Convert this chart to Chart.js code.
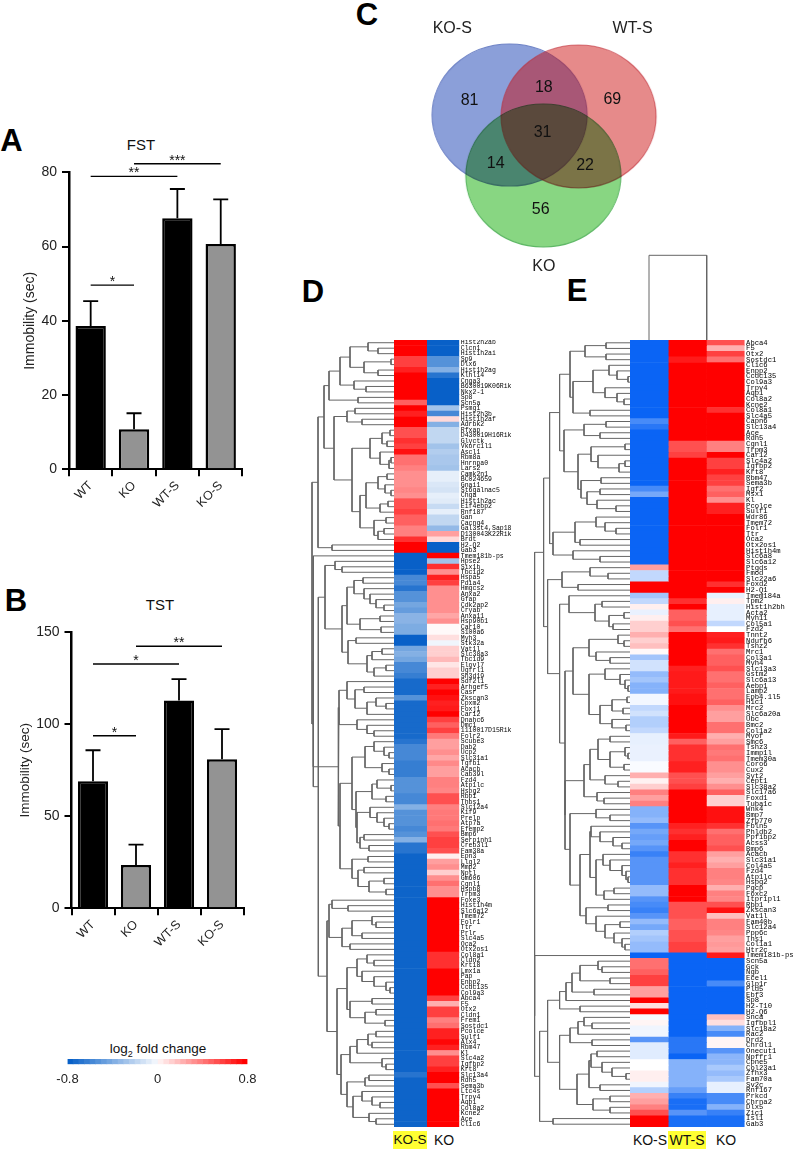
<!DOCTYPE html>
<html>
<head>
<meta charset="utf-8">
<title>Immobility, overlap and expression heatmaps</title>
<script src="https://cdn.jsdelivr.net/npm/chart.js@4"></script>
<style>
  html, body { margin: 0; padding: 0; background: #fff; width: 795px; height: 1150px; overflow: hidden; }
  body { position: relative; font-family: "Liberation Sans", Arial, sans-serif; color: #111; }
  canvas { position: absolute; }
  .txt { position: absolute; white-space: nowrap; transform: translate(-50%, -50%); line-height: 1; }
  .panel { font-size: 31px; font-weight: bold; color: #000; }
  .plot-title { font-size: 15px; }
  .col { font-size: 14px; }
  .hl { background: #ffff33; padding: 2px 0; text-align: center; height: 14px; }
  sub { font-size: 9px; line-height: 0; }
</style>
</head>
<body>
<div class="txt panel" style="left:11.5px;top:140px">A</div>
<div class="txt panel" style="left:16px;top:600px">B</div>
<div class="txt panel" style="left:367px;top:14px">C</div>
<div class="txt panel" style="left:313px;top:291px">D</div>
<div class="txt panel" style="left:577px;top:290px">E</div>
<div class="txt plot-title" style="left:141px;top:144px">FST</div>
<div class="txt plot-title" style="left:160px;top:604px">TST</div>
<div class="txt" style="left:158px;top:1049px;font-size:13.5px">log<sub>2</sub> fold change</div>
<div class="txt col hl" style="left:410px;top:1140px;width:34px;font-size:13.5px">KO-S</div>
<div class="txt col" style="left:444px;top:1140px">KO</div>
<div class="txt col" style="left:650px;top:1140px">KO-S</div>
<div class="txt col hl" style="left:687px;top:1140px;width:38px">WT-S</div>
<div class="txt col" style="left:726px;top:1140px">KO</div>
<script>
const groups = ["WT", "KO", "WT-S", "KO-S"];
const fstMeans = [38.6, 10.8, 67.6, 60.7];
const fstErrTop = [45.3, 15.1, 75.5, 72.7];
const fstBrackets = [[0, 1, 49.6, "*"], [0, 2, 78.9, "**"], [1, 3, 82.3, "***"]];
const tstMeans = [69, 23.5, 113, 81];
const tstErrTop = [85.9, 34.6, 124.5, 97.4];
const tstBrackets = [[0, 1, 93.8, "*"], [0, 2, 132.8, "*"], [1, 3, 142.4, "**"]];

const vennNames = ["KO-S", "WT-S", "KO"];
const vennNameX = [49, 236, 144];
const vennNameY = [24, 24, 271];
const vennCentreX = [108.5, 180, 143.5];
const vennCentreY = [114, 115.5, 176.7];
const vennCounts = ["81", "18", "69", "31", "14", "22", "56"];
const vennCountX = [67, 144, 215, 142.7, 94, 186.7, 140.7];
const vennCountY = [99, 85.7, 97.7, 132.3, 164, 166, 211.7];

const legendSteps = [0.05, 0.1, 0.15, 0.2, 0.25, 0.3, 0.35, 0.4, 0.45, 0.5, 0.55, 0.6, 0.65, 0.7, 0.75, 0.8];

const genesD = ["Hist2h2ab","Clcn1","Hist1h2ai","Sp9","Dlx6","Hist1h2ag","Klhl14","Cnga3","B630019K06Rik","Nkx2-1",
  "Sp8","Scn5a","Psmg1","Hist2h3b","Hist1h2af","Adrbk2","Rfxap","D430019H16Rik","Glyctk","Vkorc1l1",
  "Ascl1","Rbm8a","Hnrnpa0","Lars2","Camk2n1","BC024659","Gnai1","St6galnac5","Chga","Hist1h2ac",
  "Eif4ebp2","Rnf187","Gan","Cacng4","Gal3st4,Sap18","D130043K22Rik","Brdt","H2-Q2","Gab3","Tmem181b-ps",
  "Hpse2","Six1b","Tbc1d2","Hspa5","Pdia4","Hmgcs2","Anxa2","Gfap","Cdk2ap2","Cryab",
  "Anxa11","Hsp90b1","Car10","S100a6","Myh3","Stk32a","Vat1l","Slc38a3","Tbc1d9","Elovl7",
  "Ugfrl1","Sh3d19","Sdf2l1","Arhgef5","Casr","Zkscan3","Cpxm2","Foxj1","Car12","Dnahc6",
  "Dmc1","1110017D15Rik","Folr2","Scube3","Dab2","Ucp2","Slc31a1","Tgfbi","Acacb","Cab39l",
  "Fzd4","Atp1lc","Hspg2","Rbp1","Thbs1","Slc12a4","Kif9","Prelp","Atp7a","Efemp2",
  "Bmp6","Serpinh1","Creb3l1","Fam38a","Epn3","Llgl2","Mmp2","Nptl","Gm606","Cgnl1",
  "Hspb8","Trpm3","Foxe3","Hist1h4m","Slc6a12","Tmem72","Folr1","Ttr","Prlr","Slc4a5",
  "Oca2","Otx2os1","Col8a1","Cldn2","Krt18","Lmx1a","Pap","Enpp2","Ccdc135","Col9a3",
  "Abca4","F5","Otx2","Cldn1","Frem1","Sostdc1","Pcolce","Sulf1","Alx4","Rbm47",
  "Kl","Slc4a2","Igfbp2","Krt8","Slc13a4","Rdh5","Sema3b","Ltc4s","Trpv4","Aqp1",
  "Col8a2","Kcne2","Ace","Clic6"];
const koSD = [.8,.8,.8,.6,.6,.7,.8,.8,.8,.8,
  .8,.5,.8,.7,.8,.8,.55,.55,.65,.6,
  .75,.45,.45,.4,.35,.35,.35,.38,.35,.55,
  .55,.6,.5,.5,.4,.4,.65,.8,.8,-.8,
  -.8,-.8,-.8,-.6,-.6,-.7,-.55,-.55,-.45,-.5,
  -.38,-.38,-.42,-.42,-.8,-.8,-.45,-.4,-.45,-.6,
  -.6,-.65,-.75,-.75,-.75,-.55,-.75,-.75,-.75,-.75,
  -.75,-.75,-.75,-.7,-.6,-.6,-.6,-.65,-.65,-.65,
  -.55,-.55,-.55,-.6,-.6,-.4,-.55,-.55,-.55,-.6,
  -.55,-.4,-.7,-.7,-.78,-.78,-.78,-.78,-.78,-.78,
  -.78,-.78,-.78,-.78,-.78,-.78,-.78,-.78,-.78,-.78,
  -.78,-.78,-.78,-.78,-.78,-.78,-.78,-.78,-.78,-.78,
  -.78,-.78,-.78,-.78,-.78,-.78,-.78,-.78,-.78,-.78,
  -.78,-.78,-.78,-.78,-.7,-.78,-.78,-.78,-.78,-.78,
  -.78,-.78,-.78,-.78];
const koD = [-.8,-.8,-.8,-.55,-.55,-.4,-.7,-.8,-.8,-.8,
  -.8,-.8,-.3,-.6,.12,-.4,-.2,-.2,-.2,-.3,
  -.25,-.28,-.28,-.3,-.08,-.08,-.12,-.14,-.08,-.1,
  -.18,-.08,-.2,-.2,-.35,.3,.12,-.8,-.8,.8,
  -.3,.65,.35,.7,.6,.35,.35,.35,.35,.35,
  .28,.35,.02,.02,.1,-.05,.15,.15,.22,.08,
  .15,.15,.8,.7,.8,.75,.7,.72,.8,.6,
  .5,.6,.42,.3,.3,.35,.28,.37,.3,.3,
  .4,.4,.38,.55,.55,.4,.42,.42,.45,.42,
  .55,.6,.6,.55,.05,.3,.35,.15,.35,.45,
  .35,.35,.8,.8,.8,.8,.8,.8,.8,.8,
  .8,.8,.65,.65,.65,.8,.8,.8,.8,.8,
  .6,.25,.6,.6,.4,.45,.7,.7,.78,.7,
  .35,.6,.6,.7,.8,.8,.55,.8,.8,.8,
  .8,.8,.8,.8];

const genesE = ["Abca4","F5","Otx2","Sostdc1","Clic6","Enpp2","Ccdc135","Col9a3","Trpv4","Aqp1",
  "Col8a2","Kcne2","Col8a1","Slc4a5","Capn6","Slc13a4","Ace","Rdh5","Cgnl1","Trpm3",
  "Car12","Slc4a2","Igfbp2","Krt8","Rbm47","Sema3b","Igf2","Msx1","Kl","Pcolce",
  "Sulf1","Wdr86","Tmem72","Folr1","Ttr","Oca2","Otx2os1","Hist1h4m","Slc6a8","Slc6a12",
  "Ptgds","Fmod","Slc22a6","Foxd2","H2-Q1","Tmem184a","Tpm2","Hist1h2bh","Acta2","Myh11",
  "Col5a1","Fzd2","Tnnt2","Ndufb6","Tshz2","Mrc1","Col3a1","Myh4","Slc13a3","Gstm2",
  "Slc6a13","Aebp1","Lamp2","Epb4.1l5","H1c1","Mrc2","Slc6a20a","Ubc","Bmc2","Col1a2",
  "Myof","Smc6","Tshz3","Immp1l","Tmem30a","Coro6","Cux2","Syt2","Cept1","Slc38a2",
  "Slc17a6","Foxd1","Tuba1c","Wnk4","Bmp7","Zfp770","Fbln5","Phldb2","Ppfibp2","Acss3",
  "Bmp6","Acacb","Slc31a1","Col4a5","Fzd4","Atp1lc","Hspg2","Pgcp","Foxc2","Itpripl1",
  "Rbp1","Zkscan3","Vat1l","Fam40b","Slc12a4","Ppp6c","Tns1","Col1a1","Htr2c","Tmem181b-ps",
  "Scn5a","Gck","Ngb","Ecel1","Glp1r","Pld5","Ebf3","Sp8","H2-T10","H2-Q6",
  "Snca","Igfbpl1","Slc18a2","Rac2","Drd2","Chrdl1","Onecut1","Npffr1","Cpne5","Col23a1",
  "Zfhx3","Fam70a","Sv2c","Rnf167","Prkcd","Chrna2","Dlx5","Zic1","Isl1","Gab3"];
const koSE = [-.8,-.8,-.8,-.8,-.8,-.8,-.8,-.8,-.8,-.8,
  -.8,-.8,-.8,-.8,-.6,-.7,-.8,-.8,-.8,-.8,
  -.8,-.8,-.8,-.8,-.8,-.8,-.6,-.45,-.8,-.8,
  -.8,-.8,-.8,-.8,-.8,-.8,-.8,-.8,-.8,-.8,
  .3,-.2,-.2,.8,.8,-.3,-.2,.05,-.07,.05,
  .15,.15,.25,.15,.2,.02,-.3,-.15,-.15,-.35,
  -.3,-.4,-.4,-.04,-.04,-.2,-.15,-.25,-.25,-.2,
  -.08,-.08,-.07,-.07,-.07,-.02,-.02,.25,.04,.15,
  .4,.3,.4,-.4,-.4,-.35,-.55,-.45,-.5,-.45,
  -.55,-.65,-.55,-.55,-.55,-.55,-.55,-.35,-.35,-.55,
  -.6,-.65,-.55,-.35,-.45,-.25,-.3,-.35,-.35,-.8,
  .45,.45,.5,.6,.6,.3,.3,.8,.1,.8,
  -.03,.03,-.05,-.05,-.55,-.1,-.1,-.1,0,0,
  .05,.05,-.05,-.25,.25,.3,.4,.55,.8,.8];
const wtSE = [.8,.8,.8,.72,.8,.8,.8,.8,.8,.8,
  .8,.8,.8,.8,.8,.8,.8,.8,.55,.55,
  .6,.8,.8,.8,.8,.8,.8,.8,.8,.8,
  .8,.8,.8,.8,.8,.8,.8,.8,.8,.8,
  .8,.8,.8,.8,.8,.8,.65,.8,.5,.5,
  .55,.45,.8,.8,.8,.8,.8,.8,.7,.72,
  .72,.72,.72,.75,.75,.8,.8,.8,.8,.8,
  .72,.5,.65,.65,.65,.7,.7,.55,.55,.6,
  .8,.8,.8,.8,.8,.8,.7,.65,.7,.8,
  .8,.65,.65,.7,.65,.65,.65,.8,.8,.8,
  .55,.55,.55,.5,.5,.55,.55,.6,.6,-.8,
  -.8,-.8,-.8,-.8,-.8,-.8,-.8,-.8,-.8,-.8,
  -.8,-.8,-.8,-.8,-.7,-.7,-.7,-.8,-.4,-.4,
  -.4,-.4,-.4,-.5,-.65,-.75,-.75,-.55,-.75,-.75];
const koE = [.55,.25,.6,.45,.8,.8,.8,.8,.8,.8,
  .8,.8,.65,.8,.8,.8,.8,.8,.4,.4,
  .8,.6,.6,.7,.6,.6,.45,.5,.35,.7,
  .7,.8,.8,.8,.8,.8,.8,.8,.8,.8,
  .8,.8,.8,.65,.8,-.08,.05,-.08,-.08,-.08,
  -.2,0,.7,.72,.65,.45,.5,.5,.55,.45,
  .45,.5,.45,.45,.5,.35,.3,.3,.45,.45,
  .25,.3,.45,.42,.45,.35,.35,.3,.25,.35,
  .5,.15,.15,.75,.75,.75,.65,.45,.5,.5,
  .55,.3,.25,.3,.4,.4,.38,.25,.4,.38,
  .55,.75,.2,.4,.4,.38,.3,.32,.3,.72,
  -.8,-.8,-.8,-.8,-.6,-.8,-.8,-.8,-.8,-.8,
  .2,.1,-.4,-.6,.03,.03,-.55,-.38,-.38,-.28,
  -.35,-.28,-.08,-.08,-.6,-.6,-.4,-.65,-.75,-.75];

// dendrograms: [height, left, right], a plain number is a row index
const treeD = [82,
  [76,
    [70,
      [65, [54, [44, [26, 0, [16, 1, 2]], [30, [3, 3, 4], [16, 5, 6]]], [40, 7, [28, 8, 9]]], [36, 10, 11]],
      [60, [47, [39, 12, 13], [32, 14, 15]],
        [42,
          [24, [12, [4, 16, 17], [7, 18, 19]], [14, 20, [5, [3, 21, 22], 23]]],
          [34,
            [28, [16, [7, 24, 25], [9, 26, [3, 27, 28]]], [14, [6, 29, 30], 31]],
            [20, [8, 32, 33], [16, [10, 34, 35], 36]]]]]],
    [62, 37, 38]],
  [80.7,
    [80.7, 39,
      [55.7,
        [55, [47, 62, [39, [30, 63, 64], [27, [18, 65, [8, 66, 67]], 68]]], [37, 69, [27, 70, [20, 71, 72]]]],
        [54,
          [42,
            [29, [20, 73, [10, 74, [5, 75, 76]]], [12, 77, [5, 78, 79]]],
            [38,
              [22, [17, 80, [3, 81, 82]], [8, 83, 84]],
              [37, [24, 85, [17, 86, [10, 87, [5, 88, 89]]]], [34, [30, 90, 91], [25, 92, 93]]]]],
          [42, [26, 94, 95], [36, [30, 96, 97], [25, [10, 98, 99], [8, 100, 101]]]]]]],
    [75.7,
      [69,
        [59, 40, [52, 41, 42]],
        [52,
          [47, [40, [31, 43, 44], [30, 45, [24, 46, [18, 47, [10, 48, 49]]]]], [34, [14, 50, 51], [13, 52, 53]]],
          [46, [38, 54, 55], [27, [22, [12, 56, 57], 58], [20, [8, 59, 60], 61]]]]],
      [67,
        [65, [62, 102, [46, 103, 104]], [52, [42, [22, 105, [18, 106, 107]], [32, 108, 109]], [44, 110, 111]]],
        [57,
          [47,
            [37, [27, 112, [20, 113, 114]], [32, 115, [20, 116, [8, 117, [4, 118, 119]]]]],
            [44, [22, 120, 121], [29, [18, 122, 123], [9, 124, 125]]]],
          [53,
            [44, [37, [26, [18, 126, 127], [22, 128, 129]], 130], [12, 131, [8, 132, 133]]],
            [47, [29, [25, 134, 135], 136], [41, [32, 137, [22, 138, [14, 139, 140]]], [25, 141, [18, 142, 143]]]]]]]]]];

const treeE = [95.4,
  [86.4,
    [80.4,
      [70.4,
        [60,
          [45, [24, 0, 1], [24, 2, 3]],
          [57,
            [37, [21, 4, [13, 5, [2, 6, 7]]], [25, 8, [13, 9, [6, 10, 11]]]],
            [40, 12, 13]]],
        [66,
          [46, [24, 14, 15], [30, 16, 17]],
          [52,
            [39, [5, 18, 19], [32, 20, [11, [5, 21, 22], 23]]],
            [49, [29, 24, 25], [43, [30, 26, 27], [33, 28, [14, 29, 30]]]]]]],
      [77,
        [55, [34, 31, [25, 32, [14, 33, 34]]], [50, 35, 36]],
        [57, 37, [30, 38, 39]]]],
    [82.4,
      [68, [40, 40, [22, 41, 42]], [52, 43, 44]],
      [70.4,
        [61, 45, [35, [28, 46, 47], [21, [6, 48, 49], [17, 50, 51]]]],
        [65,
          [57,
            [41, [12, 52, [6, 53, 54]], [34, 55, [20, 56, 57]]],
            [41, [25, 58, [10, 59, [5, 60, [2, 61, 62]]]], [30, [18, [3, 63, 64], [7, 65, 66]], [18, 67, [4, 68, 69]]]]],
          [65,
            [46,
              [40, [32, [20, 70, 71], [20, [5, 72, [2, 73, 74]], [6, 75, 76]]], [25, 77, [12, 78, 79]]],
              [33, 80, [26, 81, 82]]],
            [60,
              [34, 83, [20, 84, 85]],
              [50,
                [40,
                  [39, 86, [30, 87, [17, 88, [8, 89, 90]]]],
                  [34, [27, 91, [20, 92, [8, 93, [4, 94, [2, 95, 96]]]]], [26, [16, 97, 98], 99]]],
                [44, [22, 100, 101], [34, 102, [25, [10, 103, 104], [16, 105, [8, 106, [5, 107, 108]]]]]]]]]]]]],
  [95.4, 109,
    [90.4,
      [82.4,
        [70.4,
          [64, [58, [50, [32, 110, [28, 111, 112]], [20, 113, 114]], [36, 115, 116]], 117],
          [50, 118, 119]],
        [70.4,
          [60, [52, [46, 120, [38, 121, 122]], 123], [38, 124, 125]],
          [53,
            [41, [39, [33, 126, 127], [28, 128, [18, 129, [4, 130, 131]]]], [30, 132, 133]],
            [37, [20, 134, 135], [20, 136, 137]]]]],
      [77, 138, 139]]]];
const sampleTreeX = [0, 0, 1, 1];
const sampleTreeY = [0, 85, 85, 0];

const SANS = '"Liberation Sans", Arial, sans-serif';
const MONO = '"Liberation Mono", monospace';
const BLUE_D = [8, 96, 200];
const BLUE_E = [10, 100, 245];

Chart.defaults.animation = false;
Chart.defaults.responsive = false;
Chart.defaults.devicePixelRatio = 1;
Chart.defaults.font.family = SANS;
Chart.defaults.plugins.legend.display = false;
Chart.defaults.plugins.tooltip.enabled = false;

function addCanvas(left, top, w, h) {
  const c = document.createElement("canvas");
  c.width = w;
  c.height = h;
  c.style.left = left + "px";
  c.style.top = top + "px";
  document.body.appendChild(c);
  return c;
}

function heatColor(v, low) {
  const t = Math.min(Math.abs(v) / 0.8, 1);
  const end = v < 0 ? low : [255, 0, 0];
  const mix = end.map((e) => Math.round(255 + (e - 255) * t));
  return `rgb(${mix[0]},${mix[1]},${mix[2]})`;
}

function noOverhang(s) {
  s.paddingTop = s.paddingBottom = s.paddingLeft = s.paddingRight = 0;
}

// error bars and significance lines go on top of the bars
const barExtras = {
  id: "barExtras",
  afterDatasetsDraw(chart, args, opts) {
    const { ctx, scales: { x, y } } = chart;
    ctx.save();
    ctx.strokeStyle = "#000";
    ctx.fillStyle = "#111";
    ctx.lineWidth = 1.8;
    opts.errTop.forEach((top, i) => {
      const px = x.getPixelForValue(i);
      ctx.beginPath();
      ctx.moveTo(px, y.getPixelForValue(chart.data.datasets[0].data[i]));
      ctx.lineTo(px, y.getPixelForValue(top));
      ctx.moveTo(px - 7.5, y.getPixelForValue(top));
      ctx.lineTo(px + 7.5, y.getPixelForValue(top));
      ctx.stroke();
    });
    ctx.lineWidth = 1.4;
    ctx.font = "14px " + SANS;
    ctx.textAlign = "center";
    opts.brackets.forEach(([a, b, val, stars]) => {
      const x1 = x.getPixelForValue(a);
      const x2 = x.getPixelForValue(b);
      const py = y.getPixelForValue(val);
      ctx.beginPath();
      ctx.moveTo(x1, py);
      ctx.lineTo(x2, py);
      ctx.stroke();
      ctx.fillText(stars, (x1 + x2) / 2, py + 1);
    });
    ctx.restore();
  },
};

function barPanel(cfg) {
  const canvas = addCanvas(0, cfg.top, 250, cfg.height);
  new Chart(canvas, {
    type: "bar",
    data: {
      labels: groups,
      datasets: [{
        data: cfg.means,
        backgroundColor: ["#000", "#939393", "#000", "#939393"],
        borderColor: "#000",
        borderWidth: 2.5,
        categoryPercentage: 1,
        barPercentage: 0.7,
      }],
    },
    options: {
      layout: { padding: { top: cfg.padTop, right: 250 - cfg.right, left: 0, bottom: 0 } },
      scales: {
        x: {
          grid: { drawOnChartArea: false, color: "#000", lineWidth: 2, tickLength: 7 },
          border: { color: "#000", width: 2 },
          ticks: { color: "#222", font: { size: 12.5 }, minRotation: 45, maxRotation: 45, padding: 2 },
          afterFit: (s) => { s.height = cfg.xHeight; noOverhang(s); },
        },
        y: {
          min: 0,
          max: cfg.max,
          grid: { drawOnChartArea: false, color: "#000", lineWidth: 2, tickLength: 7 },
          border: { color: "#000", width: 2.5 },
          ticks: { stepSize: cfg.step, color: "#222", font: { size: 14 }, padding: 5 },
          title: {
            display: true,
            text: "Immobility (sec)",
            color: "#222",
            font: { size: cfg.titleSize },
            padding: { top: cfg.titlePad, bottom: 0 },
          },
          afterFit: (s) => { s.width = cfg.left; noOverhang(s); },
        },
      },
      plugins: { barExtras: { errTop: cfg.errTop, brackets: cfg.brackets } },
    },
    plugins: [barExtras],
  });
}

function ellipseImage(rx, ry, fill, edge) {
  const c = document.createElement("canvas");
  c.width = Math.ceil(rx * 2 + 4);
  c.height = Math.ceil(ry * 2 + 4);
  const g = c.getContext("2d");
  g.beginPath();
  g.ellipse(c.width / 2, c.height / 2, rx, ry, 0, 0, Math.PI * 2);
  g.fillStyle = fill;
  g.fill();
  g.strokeStyle = edge;
  g.lineWidth = 1.2;
  g.stroke();
  return c;
}

const vennText = {
  id: "vennText",
  beforeDatasetDraw(chart, args) {
    if (args.index === 2) chart.ctx.globalCompositeOperation = "multiply";
  },
  afterDatasetDraw(chart) {
    chart.ctx.globalCompositeOperation = "source-over";
  },
  afterDatasetsDraw(chart) {
    const { ctx, scales: { x, y } } = chart;
    ctx.save();
    ctx.textAlign = "center";
    ctx.textBaseline = "middle";
    ctx.font = "16px " + SANS;
    ctx.fillStyle = "#222";
    vennNames.forEach((t, i) => ctx.fillText(t, x.getPixelForValue(vennNameX[i]), y.getPixelForValue(vennNameY[i])));
    ctx.fillStyle = "#111";
    vennCounts.forEach((t, i) => ctx.fillText(t, x.getPixelForValue(vennCountX[i]), y.getPixelForValue(vennCountY[i])));
    ctx.restore();
  },
};

function vennPanel() {
  const styles = [
    ellipseImage(77.5, 71, "#8b9fd9", "#6e83c6"),
    ellipseImage(77.5, 71.5, "rgba(202,6,6,0.47)", "rgba(190,40,50,0.6)"),
    ellipseImage(77.5, 71.5, "#88d682", "#5fb866"),
  ];
  new Chart(addCanvas(400, 0, 280, 285), {
    type: "scatter",
    data: {
      datasets: vennNames.map((name, i) => ({
        label: name,
        data: [{ x: vennCentreX[i], y: vennCentreY[i] }],
        pointStyle: styles[i],
        pointRadius: 1,
        clip: false,
        order: 3 - i, // blue first, green last
      })),
    },
    options: {
      layout: { padding: 0 },
      scales: {
        x: { display: false, min: 0, max: 280 },
        y: { display: false, min: 0, max: 285, reverse: true },
      },
    },
    plugins: [vennText],
  });
}

function treePoints(tree) {
  const out = [];
  function walk(node) {
    if (typeof node === "number") return { h: 0, y: node + 0.5 };
    const a = walk(node[1]);
    const b = walk(node[2]);
    out.push({ x: a.h, y: a.y }, { x: node[0], y: a.y }, { x: node[0], y: b.y }, { x: b.h, y: b.y }, { x: NaN, y: NaN });
    return { h: node[0], y: (a.y + b.y) / 2 };
  }
  walk(tree);
  return out;
}

function treePanel(tree, rows, left, top, w, h) {
  new Chart(addCanvas(left, top, w, h), {
    type: "scatter",
    data: {
      datasets: [{
        data: treePoints(tree),
        showLine: true,
        spanGaps: false,
        borderColor: "#666",
        borderWidth: 1,
        pointRadius: 0,
      }],
    },
    options: {
      layout: { padding: 0 },
      scales: {
        x: { display: false, min: 0, max: w, reverse: true },
        y: { display: false, min: 0, max: rows, reverse: true },
      },
    },
  });
}

function heatPanel(genes, columns, low, left, top, w, h, cellW, fontSize) {
  new Chart(addCanvas(left, top, w, h), {
    type: "bar",
    data: {
      labels: genes,
      datasets: columns.map((vals) => ({
        data: vals.map(() => 1),
        backgroundColor: vals.map((v) => heatColor(v, low)),
        borderWidth: 0,
        categoryPercentage: 1,
        barPercentage: 1,
      })),
    },
    options: {
      indexAxis: "y",
      layout: { padding: 0 },
      scales: {
        x: { display: false, stacked: true, min: 0, max: columns.length },
        y: {
          stacked: true,
          position: "right",
          grid: { display: false, drawTicks: false },
          border: { display: false },
          ticks: {
            autoSkip: false,
            color: "#000",
            padding: 1.5,
            font: { family: MONO, size: fontSize },
          },
          afterFit: (s) => { s.width = w - cellW; noOverhang(s); },
        },
      },
    },
  });
}

function sampleTreePanel() {
  new Chart(addCanvas(640, 250, 80, 90), {
    type: "scatter",
    data: {
      datasets: [{
        data: sampleTreeX.map((x, i) => ({ x, y: sampleTreeY[i] })),
        showLine: true,
        borderColor: "#666",
        borderWidth: 1,
        pointRadius: 0,
        clip: false,
      }],
    },
    options: {
      layout: { padding: { left: 9, right: 13.3, top: 5.3, bottom: 0 } },
      scales: {
        x: { display: false, min: 0, max: 1 },
        y: { display: false, min: 0, max: 85 },
      },
    },
  });
}

function legendPanel() {
  const cells = [...legendSteps.map((s) => -s), ...legendSteps];
  new Chart(addCanvas(40, 1050, 240, 40), {
    type: "bar",
    data: {
      labels: ["log2 fold change"],
      datasets: cells.map((v) => ({
        data: [v < 0 ? -0.05 : 0.05],
        backgroundColor: heatColor(v, BLUE_D),
        borderWidth: 0,
        categoryPercentage: 1,
        barPercentage: 1,
      })),
    },
    options: {
      indexAxis: "y",
      layout: { padding: { left: 27.5, right: 32.5, top: 9, bottom: 0 } },
      scales: {
        y: { display: false, stacked: true },
        x: {
          stacked: true,
          min: -0.8,
          max: 0.8,
          grid: { display: false, drawTicks: false },
          border: { display: false },
          ticks: {
            stepSize: 0.8,
            maxRotation: 0,
            color: "#222",
            padding: 7,
            font: { size: 13 },
            callback: (value) => String(Math.round(value * 10) / 10),
          },
          afterFit: (s) => { s.height = 25.7; noOverhang(s); },
        },
      },
    },
  });
}

barPanel({
  top: 140, height: 380, padTop: 32.3, xHeight: 50.7, left: 69, right: 242.4, max: 80, step: 20,
  means: fstMeans, errTop: fstErrTop, brackets: fstBrackets, titleSize: 14, titlePad: 21.6,
});
barPanel({
  top: 620, height: 345, padTop: 12.3, xHeight: 56.7, left: 71.5, right: 243.5, max: 150, step: 50,
  means: tstMeans, errTop: tstErrTop, brackets: tstBrackets, titleSize: 13.5, titlePad: 17,
});
vennPanel();
treePanel(treeD, genesD.length, 304, 340, 90, 787);
heatPanel(genesD, [koSD, koD], BLUE_D, 394, 340, 122, 787, 65.3, 6.5);
treePanel(treeE, genesE.length, 530, 340, 100, 787);
heatPanel(genesE, [koSE, wtSE, koE], BLUE_E, 630, 340, 165, 787, 114.6, 7.2);
sampleTreePanel();
legendPanel();
</script>
</body>
</html>
